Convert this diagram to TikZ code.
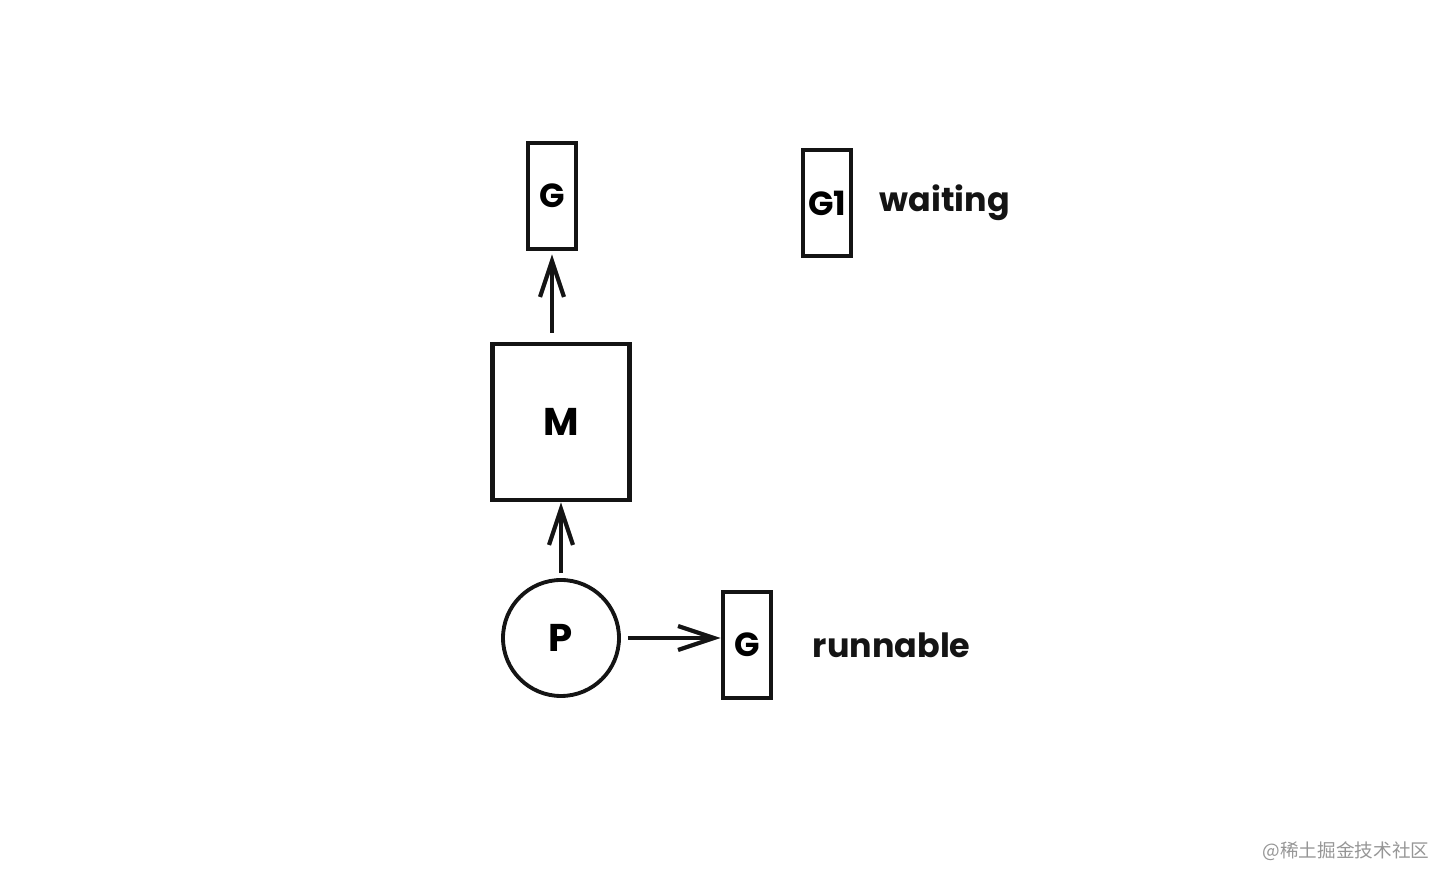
\documentclass[tikz,border=0pt]{standalone}
\usepackage{fontspec}
\setmainfont{Poppins}
\newfontfamily\cjkfont{Noto Sans CJK SC}
\usepackage{xcolor}
\usepackage{tikz}
\usetikzlibrary{arrows.meta,positioning}
\definecolor{cInk}{RGB}{20,20,20}
\definecolor{cMark}{RGB}{150,150,150}
\tikzset{
  gbox/.style={draw=cInk, line width=1.3pt, minimum width=4.8mm, minimum height=10.6mm,
               inner sep=0pt, align=center, font=\fontsize{9.5}{11}\selectfont\bfseries},
  mbox/.style={draw=cInk, line width=1.3pt, minimum width=13.7mm, minimum height=15.6mm,
               align=center, font=\fontsize{11}{13}\selectfont\bfseries},
  pcirc/.style={circle, draw=cInk, line width=1.1pt, minimum size=11.6mm,
                align=center, font=\fontsize{11}{13}\selectfont\bfseries},
  arr/.style={-{Straight Barb[length=3.6mm,width=2.4mm]}, line width=1.2pt, cInk},
  lbl/.style={font=\fontsize{9.5}{11}\selectfont\bfseries, text=cInk, inner sep=0pt},
  wmark/.style={font=\cjkfont\fontsize{5.3}{6}\selectfont, text=cMark, inner sep=0pt},
}
\begin{document}
\begin{tikzpicture}
  \useasboundingbox (0,0) rectangle (14.54,8.86);

  \node[mbox] (m) at (5.61,4.64) {M};
  \node[gbox] (gtop) at (5.52,6.90) {G};
  \node[pcirc] (p) at (5.61,2.48) {P};
  \node[gbox] (grun) at (7.47,2.41) {G};
  \node[lbl, right=3.9mm of grun] (runl) {runnable};

  \node[gbox] (gwait) at (8.27,6.83) {G1};
  \node[lbl, right=2.6mm of gwait] (waitl) {waiting};

  \draw[arr, shorten <=0.9mm, shorten >=0.3mm] (m.north -| gtop.south) -- (gtop.south);
  \draw[arr, shorten <=0.5mm] (p.north) -- (m.south);
  \draw[arr, shorten <=0.7mm] (p.east) -- (p.east -| grun.west);

  \node[wmark, anchor=east] (wm) at (14.30,0.35) {@稀土掘金技术社区};
\end{tikzpicture}
\end{document}
